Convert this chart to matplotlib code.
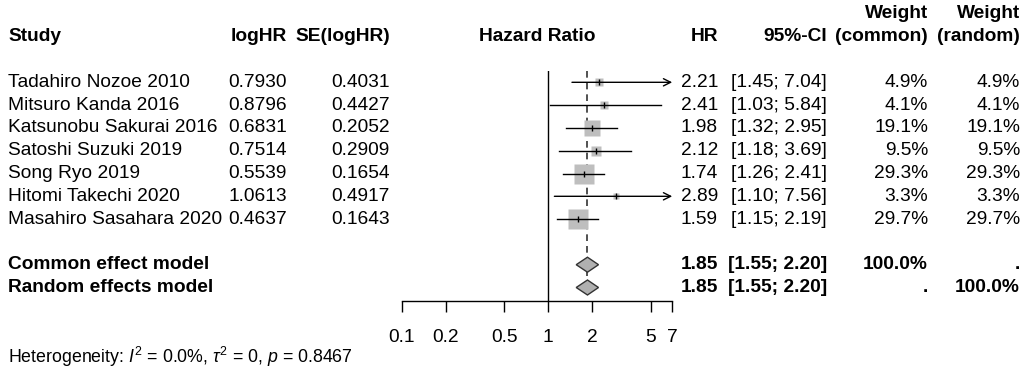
import matplotlib
matplotlib.use("Agg")
import matplotlib.pyplot as plt
import numpy as np

plt.rcParams["font.family"] = ["Liberation Sans", "DejaVu Sans"]
plt.rcParams["mathtext.fontset"] = "custom"
plt.rcParams["mathtext.rm"] = "Liberation Sans"
plt.rcParams["mathtext.it"] = "Liberation Sans:italic"

# ── data ─────────────────────────────────────────────────────────────
studies = ["Tadahiro Nozoe 2010", "Mitsuro Kanda 2016", "Katsunobu Sakurai 2016",
           "Satoshi Suzuki 2019", "Song Ryo 2019", "Hitomi Takechi 2020",
           "Masahiro Sasahara 2020"]
loghr = [0.7930, 0.8796, 0.6831, 0.7514, 0.5539, 1.0613, 0.4637]
se_loghr = [0.4031, 0.4427, 0.2052, 0.2909, 0.1654, 0.4917, 0.1643]
hr = [2.21, 2.41, 1.98, 2.12, 1.74, 2.89, 1.59]
ci_lo = [1.45, 1.03, 1.32, 1.18, 1.26, 1.10, 1.15]
ci_hi = [7.04, 5.84, 2.95, 3.69, 2.41, 7.56, 2.19]
w_common = [4.9, 4.1, 19.1, 9.5, 29.3, 3.3, 29.7]
w_random = [4.9, 4.1, 19.1, 9.5, 29.3, 3.3, 29.7]

models = ["Common effect model", "Random effects model"]
pooled_hr = [1.85, 1.85]
pooled_lo = [1.55, 1.55]
pooled_hi = [2.20, 2.20]
pooled_wc = ["100.0%", "."]
pooled_wr = [".", "100.0%"]

xticks = [0.1, 0.2, 0.5, 1, 2, 5, 7]
xticklabels = ["0.1", "0.2", "0.5", "1", "2", "5", "7"]
XMIN, XMAX = 0.1, 7
het_text = r"Heterogeneity: $I^2$ = 0.0%, $\tau^2$ = 0, $p$ = 0.8467"

# ── layout (pixels) ──────────────────────────────────────────────────
W, H = 1028, 373
ROW0, ROWH = 82.3, 22.8
FS = 13.8


def rowy(r):
    return ROW0 + r * ROWH


study_rows = list(range(len(studies)))
model_rows = [8, 9]

fig = plt.figure(figsize=(W / 100, H / 100), dpi=100)
tax = fig.add_axes([0, 0, 1, 1])
tax.set_xlim(0, W)
tax.set_ylim(H, 0)
tax.axis("off")

# column x positions
X_STUDY, X_LOG, X_SE, X_HRLAB = 8, 287, 390, 537
X_HR, X_CI, X_WC, X_WR = 718, 827, 928, 1020

hdr = dict(fontsize=FS, fontweight="bold", va="center")
tax.text(X_STUDY, rowy(-2), "Study", ha="left", **hdr)
tax.text(X_LOG, rowy(-2), "logHR", ha="right", **hdr)
tax.text(X_SE, rowy(-2), "SE(logHR)", ha="right", **hdr)
tax.text(X_HRLAB, rowy(-2), "Hazard Ratio", ha="center", **hdr)
tax.text(X_HR, rowy(-2), "HR", ha="right", **hdr)
tax.text(X_CI, rowy(-2), "95%-CI", ha="right", **hdr)
tax.text(X_WC, rowy(-3), "Weight", ha="right", **hdr)
tax.text(X_WC, rowy(-2), "(common)", ha="right", **hdr)
tax.text(X_WR, rowy(-3), "Weight", ha="right", **hdr)
tax.text(X_WR, rowy(-2), "(random)", ha="right", **hdr)

body = dict(fontsize=FS, va="center")
for r, name, lh, s, h, lo, hi, wc, wr in zip(study_rows, studies, loghr, se_loghr,
                                             hr, ci_lo, ci_hi, w_common, w_random):
    y = rowy(r)
    tax.text(X_STUDY, y, name, ha="left", **body)
    tax.text(X_LOG, y, f"{lh:.4f}", ha="right", **body)
    tax.text(X_SE, y, f"{s:.4f}", ha="right", **body)
    tax.text(X_HR, y, f"{h:.2f}", ha="right", **body)
    tax.text(X_CI, y, f"[{lo:.2f}; {hi:.2f}]", ha="right", **body)
    tax.text(X_WC, y, f"{wc:.1f}%", ha="right", **body)
    tax.text(X_WR, y, f"{wr:.1f}%", ha="right", **body)

bold = dict(fontsize=FS, va="center", fontweight="bold")
for r, name, h, lo, hi, wc, wr in zip(model_rows, models, pooled_hr, pooled_lo,
                                      pooled_hi, pooled_wc, pooled_wr):
    y = rowy(r)
    tax.text(X_STUDY, y, name, ha="left", **bold)
    tax.text(X_HR, y, f"{h:.2f}", ha="right", **bold)
    tax.text(X_CI, y, f"[{lo:.2f}; {hi:.2f}]", ha="right", **bold)
    tax.text(X_WC, y, wc, ha="right", **bold)
    tax.text(X_WR, y, wr, ha="right", **bold)

tax.text(X_STUDY, 357, het_text, ha="left", va="center", fontsize=12.8)

# ── forest panel ─────────────────────────────────────────────────────
FX0, FX1 = 401.7, 672.2
FTOP, FBOT = rowy(-0.5), 300.5
fax = fig.add_axes([FX0 / W, 1 - FBOT / H, (FX1 - FX0) / W, (FBOT - FTOP) / H])
fax.set_xscale("log")
fax.set_xlim(XMIN, XMAX)
fax.set_ylim(FBOT, FTOP)
fax.patch.set_alpha(0)
for sp in ["top", "left", "right"]:
    fax.spines[sp].set_visible(False)
fax.spines["bottom"].set_linewidth(1.0)
fax.set_yticks([])
fax.set_xticks(xticks)
fax.set_xticklabels(xticklabels, fontsize=FS)
fax.minorticks_off()
fax.tick_params(axis="x", direction="out", length=7.8, width=1.0, pad=13)

# reference lines
fax.plot([1, 1], [FTOP, FBOT], color="black", lw=1.0, zorder=1)
fax.plot([pooled_hr[0]] * 2, [FTOP, rowy(model_rows[1])], color="#333333",
         lw=1.2, ls=(0, (4, 3)), zorder=1)

max_w = max(w_common)
for r, h, lo, hi, wc in zip(study_rows, hr, ci_lo, ci_hi, w_common):
    y = rowy(r)
    size = 14.0 * np.sqrt(wc / max_w)
    fax.plot(h, y, marker="s", ms=size, color="#bebebe", mec="none", zorder=2)
    if hi > XMAX:
        fax.annotate("", xy=(XMAX, y), xytext=(lo, y),
                     arrowprops=dict(arrowstyle="->", lw=1.0, color="black",
                                     shrinkA=0, shrinkB=0, mutation_scale=13),
                     zorder=3)
    else:
        fax.plot([lo, hi], [y, y], color="black", lw=1.0, zorder=3)
    fax.plot(h, y, marker="|", ms=5, mew=1.0, color="black", zorder=4)

for r, h, lo, hi in zip(model_rows, pooled_hr, pooled_lo, pooled_hi):
    y = rowy(r)
    dh = 7.5
    fax.fill([lo, h, hi, h], [y, y - dh, y, y + dh], facecolor="#b0b0b0",
             edgecolor="#333333", lw=1.0, zorder=4)

fig.savefig("out.png", dpi=100, facecolor="white")
